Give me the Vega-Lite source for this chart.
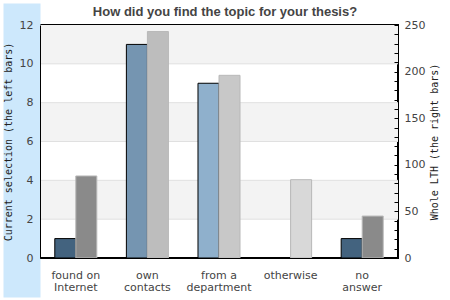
{
  "$schema": "https://vega.github.io/schema/vega-lite/v6.json",
  "width": 358,
  "height": 233,
  "autosize": {"type": "none"},
  "padding": {"left": 40, "top": 25, "right": 52, "bottom": 42},
  "background": "white",
  "title": {
    "text": "How did you find the topic for your thesis?",
    "anchor": "middle",
    "font": "Liberation Sans",
    "fontSize": 13,
    "fontWeight": "bold",
    "color": "#444444",
    "dx": 6,
    "dy": 35,
    "offset": 9,
    "baseline": "alphabetic"
  },
  "config": {
    "view": {"stroke": "black", "strokeWidth": 2, "fill": "white"},
    "axis": {"labelFont": "DejaVu Sans", "labelFontSize": 11, "labelColor": "#444444", "domainColor": "black", "titleFont": "DejaVu Sans Mono", "titleFontSize": 10, "titleFontWeight": "normal", "titleColor": "#222222"}
  },
  "datasets": {
    "bands": [
      {"lo": 2, "hi": 4},
      {"lo": 6, "hi": 8},
      {"lo": 10, "hi": 12}
    ],
    "answers": [
      {"answer": "found on\nInternet", "current": 1, "whole": 88},
      {"answer": "own\ncontacts", "current": 11, "whole": 243},
      {"answer": "from a\ndepartment", "current": 9, "whole": 196},
      {"answer": "otherwise", "current": 0, "whole": 84},
      {"answer": "no\nanswer", "current": 1, "whole": 45}
    ]
  },
  "encoding": {
    "x": {
      "field": "answer",
      "type": "nominal",
      "sort": null,
      "scale": {"paddingInner": 0.413, "paddingOuter": 0.2065},
      "axis": {"title": null, "labelAngle": 0, "ticks": false, "labelPadding": 11, "labelLineHeight": 12, "labelExpr": "split(datum.label, '\\n')", "domainColor": "black", "zindex": 1}
    }
  },
  "layer": [
    {
      "data": {"name": "bands"},
      "mark": {"type": "rect", "fill": "#f3f3f3"},
      "encoding": {
        "x": null,
        "y": {
          "field": "lo",
          "type": "quantitative",
          "scale": {"domain": [0, 12], "nice": false},
          "axis": {"orient": "left", "values": [5.562], "tickSize": 37, "tickWidth": 294, "tickColor": "#cde8fc", "tickCap": "butt", "labels": false, "domain": false, "grid": false, "title": null, "zindex": 0}
        },
        "y2": {"field": "hi"}
      }
    },
    {
      "data": {"name": "bands"},
      "transform": [
        {"fold": ["lo", "hi"], "as": ["edge", "level"]},
        {"filter": "datum.level < 12"}
      ],
      "mark": {"type": "rule", "color": "#e0e0e0", "strokeWidth": 1},
      "encoding": {
        "x": null,
        "y": {
          "field": "level",
          "type": "quantitative",
          "scale": {"domain": [0, 12], "nice": false},
          "axis": null
        }
      }
    },
    {
      "data": {"name": "answers"},
      "mark": {"type": "bar", "stroke": "black", "strokeWidth": 1},
      "encoding": {
        "xOffset": {"datum": "L", "scale": {"domain": ["L", "R"], "paddingInner": 0, "paddingOuter": 0}},
        "y": {
          "field": "current",
          "type": "quantitative",
          "scale": {"domain": [0, 12], "nice": false},
          "axis": {"orient": "left", "values": [0, 2, 4, 6, 8, 10, 12], "ticks": false, "grid": false, "labelPadding": 7, "title": "Current selection (the left bars)", "titleAngle": 270, "titlePadding": 6, "zindex": 1}
        },
        "color": {
          "field": "answer",
          "type": "nominal",
          "sort": null,
          "legend": null,
          "scale": {"range": ["#43637f", "#7595b1", "#8fb0cc", "#c5d5e3", "#43637f"]}
        }
      }
    },
    {
      "data": {"name": "answers"},
      "mark": {"type": "bar", "stroke": "#b8b8b8", "strokeWidth": 1},
      "encoding": {
        "xOffset": {"datum": "R"},
        "y": {
          "field": "whole",
          "type": "quantitative",
          "scale": {"domain": [0, 250], "nice": false},
          "axis": {"orient": "right", "values": [0, 10, 20, 30, 40, 50, 60, 70, 80, 90, 100, 110, 120, 130, 140, 150, 160, 170, 180, 190, 200, 210, 220, 230, 240, 250], "tickSize": -4, "tickColor": "black", "labelPadding": 10, "labelExpr": "datum.value % 50 == 0 ? datum.label : ''", "grid": false, "title": "Whole LTH (the right bars)", "titleAngle": 270, "titleBaseline": "top", "titlePadding": 5, "zindex": 1}
        },
        "color": {
          "field": "answer",
          "type": "nominal",
          "sort": null,
          "legend": null,
          "scale": {"range": ["#8a8a8a", "#bdbdbd", "#c8c8c8", "#d8d8d8", "#8a8a8a"]}
        }
      }
    }
  ],
  "resolve": {"scale": {"y": "independent", "color": "independent"}, "axis": {"y": "independent"}}
}
